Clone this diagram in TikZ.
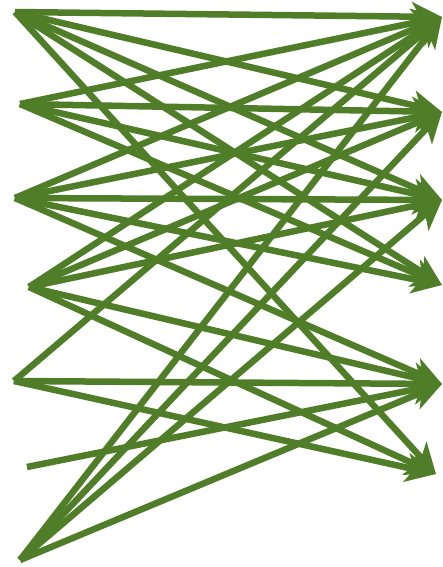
\documentclass[tikz,border=0pt]{standalone}
\usetikzlibrary{arrows.meta}
\definecolor{edgegreen}{RGB}{80,126,40}
\begin{document}
\begin{tikzpicture}[x=1pt,y=-1pt,
  edge/.style={draw=edgegreen,line width=6.5pt,-{Stealth[length=30pt,width=29pt,inset=8pt]}}]
\useasboundingbox (0,0) rectangle (442,567);
\coordinate (L1) at (15,12);
\coordinate (L2) at (20,104);
\coordinate (L3) at (15,198);
\coordinate (L4) at (29,287);
\coordinate (L5) at (14,381);
\coordinate (L6) at (27,467);
\coordinate (L7) at (20,560);
\coordinate (R1) at (442,17);
\coordinate (R2) at (442,112);
\coordinate (R3) at (442,200);
\coordinate (R4) at (442,285);
\coordinate (R5) at (442,384);
\coordinate (R6) at (436,474);
\foreach \a/\b in {L1/R1,L1/R2,L1/R3,L1/R4,L1/R6,
  L2/R1,L2/R2,L2/R3,L2/R4,
  L3/R1,L3/R2,L3/R3,L3/R4,L3/R5,
  L4/R1,L4/R2,L4/R3,L4/R5,L4/R6,
  L5/R1,L5/R5,L5/R6,
  L6/R5,
  L7/R1,L7/R2,L7/R3,L7/R5}
  \draw[edge] (\a) -- (\b);
\end{tikzpicture}
\end{document}
